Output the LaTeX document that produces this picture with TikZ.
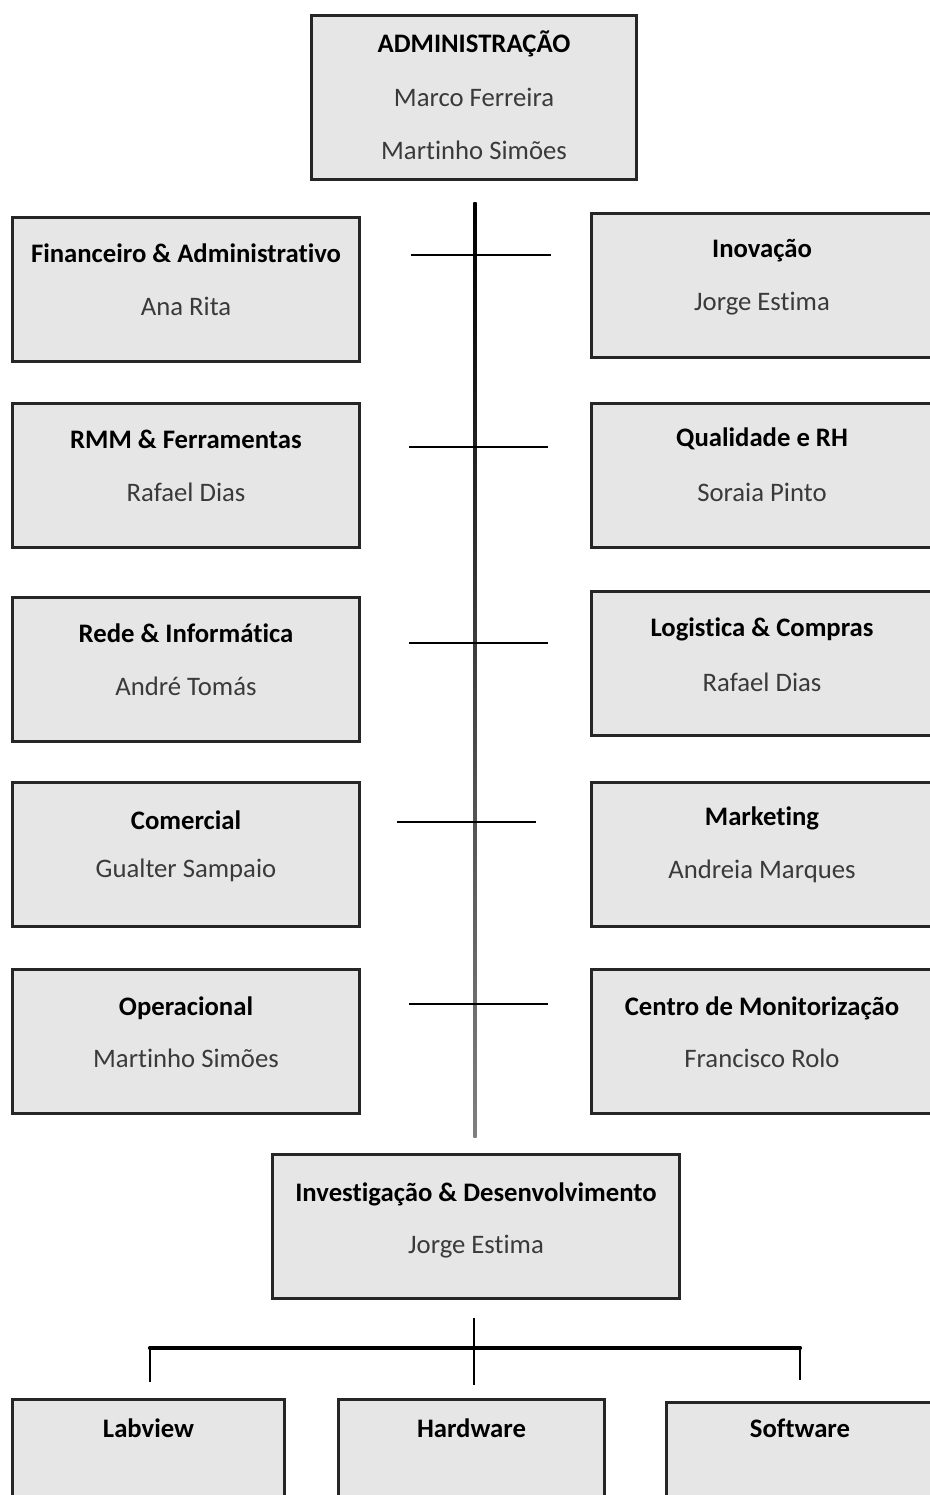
\documentclass[tikz,border=0pt]{standalone}
\usepackage{fontspec}
\setmainfont[Ligatures=NoCommon]{Carlito}
\usetikzlibrary{calc}
\definecolor{boxfill}{HTML}{E6E6E6}
\definecolor{boxline}{HTML}{262626}
\definecolor{nametext}{HTML}{3A3A3A}
\tikzset{
  unitbox/.style={draw=boxline, line width=1.7pt, fill=boxfill, inner sep=0pt, minimum height=2.88cm, minimum width=#1},
  unitbox/.default=6.94cm,
  headline/.style={inner sep=0pt, text=black, font=\fontsize{15.2}{18}\selectfont\bfseries},
  member/.style={inner sep=0pt, text=nametext, font=\fontsize{15.2}{18}\selectfont},
  tie/.style={line width=1.4pt, draw=black}
}
\begin{document}
\begin{tikzpicture}[x=0.02cm, y=-0.02cm]
\useasboundingbox (0,0) rectangle (930,1495);
\node[unitbox=6.5cm, minimum height=3.28cm] (adm) at (474,97.5) {};
\node[headline] (admhead) at ($(adm.north)+(0,30)$) {ADMINISTRAÇÃO};
\node[member] (admone) at ($(adm.north)+(0,83)$) {Marco Ferreira};
\node[member] (admtwo) at ($(adm.north)+(0,136)$) {Martinho Simões};
\coordinate (trunktop) at (475,202);
\coordinate (trunkfoot) at (475,1137);
\shade[top color=black, bottom color=gray] ($(trunktop)+(-1.6,0)$) rectangle ($(trunkfoot)+(1.6,0)$);
\node[unitbox] (fin) at (186,289.5) {};
\node[headline] (finhead) at ($(fin.north)+(0,37)$) {Financeiro \& Administrativo};
\node[member] (finname) at ($(fin.north)+(0,90)$) {Ana Rita};
\node[unitbox] (rmm) at (186,475.5) {};
\node[headline] (rmmhead) at ($(rmm.north)+(0,37)$) {RMM \& Ferramentas};
\node[member] (rmmname) at ($(rmm.north)+(0,90)$) {Rafael Dias};
\node[unitbox] (rede) at (186,669.5) {};
\node[headline] (redehead) at ($(rede.north)+(0,37)$) {Rede \& Informática};
\node[member] (redename) at ($(rede.north)+(0,90)$) {André Tomás};
\node[unitbox] (com) at (186,854.5) {};
\node[headline] (comhead) at ($(com.north)+(0,39)$) {Comercial};
\node[member] (comname) at ($(com.north)+(0,89)$) {Gualter Sampaio};
\node[unitbox] (ope) at (186,1041.5) {};
\node[headline] (opehead) at ($(ope.north)+(0,40)$) {Operacional};
\node[member] (opename) at ($(ope.north)+(0,90)$) {Martinho Simões};
\node[unitbox=6.82cm] (ino) at (762,285.5) {};
\node[headline] (inohead) at ($(ino.north)+(0,39)$) {Inovação};
\node[member] (inoname) at ($(ino.north)+(0,92)$) {Jorge Estima};
\node[unitbox=6.82cm] (qual) at (762,475.5) {};
\node[headline] (qualhead) at ($(qual.north)+(0,37)$) {Qualidade e RH};
\node[member] (qualname) at ($(qual.north)+(0,90)$) {Soraia Pinto};
\node[unitbox=6.82cm] (log) at (762,663.5) {};
\node[headline] (loghead) at ($(log.north)+(0,39)$) {Logistica \& Compras};
\node[member] (logname) at ($(log.north)+(0,92)$) {Rafael Dias};
\node[unitbox=6.82cm] (mkt) at (762,854.5) {};
\node[headline] (mkthead) at ($(mkt.north)+(0,37)$) {Marketing};
\node[member] (mktname) at ($(mkt.north)+(0,90)$) {Andreia Marques};
\node[unitbox=6.82cm] (cmon) at (762,1041.5) {};
\node[headline] (cmonhead) at ($(cmon.north)+(0,40)$) {Centro de Monitorização};
\node[member] (cmonname) at ($(cmon.north)+(0,90)$) {Francisco Rolo};
\foreach \y/\a/\b [count=\i] in {255/411/551, 447/409/548, 643/409/548, 822/397/536, 1004/409/548} {
  \coordinate (barl\i) at (\a,\y);
  \coordinate (barr\i) at (\b,\y);
  \draw[tie] (barl\i) -- (barr\i);
}
\node[unitbox=8.14cm] (rd) at (476,1226.5) {};
\node[headline] (rdhead) at ($(rd.north)+(0,41)$) {Investigação \& Desenvolvimento};
\node[member] (rdname) at ($(rd.north)+(0,94)$) {Jorge Estima};
\coordinate (rdstem) at (474,1318);
\coordinate (hwstem) at (474,1385);
\coordinate (lvcorner) at (150,1348);
\coordinate (lvstem) at (150,1382);
\coordinate (swcorner) at (800,1348);
\coordinate (swstem) at (800,1380);
\shade[left color=black, middle color=gray, right color=black] ($(lvcorner)+(-1.4,-1.4)$) rectangle ($(swcorner)+(1.4,1.4)$);
\draw[tie] (rdstem) -- (hwstem);
\draw[tie] (lvcorner) -- (lvstem);
\draw[tie] (swcorner) -- (swstem);
\node[unitbox=5.44cm, minimum height=2.41cm] (lab) at (148.5,1459.75) {};
\node[headline] (labhead) at ($(lab.north)+(0,30)$) {Labview};
\node[unitbox=5.32cm, minimum height=2.41cm] (hw) at (471.5,1459.75) {};
\node[headline] (hwhead) at ($(hw.north)+(0,30)$) {Hardware};
\node[unitbox=5.34cm, minimum height=2.35cm] (sw) at (800,1461.25) {};
\node[headline] (swhead) at ($(sw.north)+(0,27)$) {Software};
\end{tikzpicture}
\end{document}
